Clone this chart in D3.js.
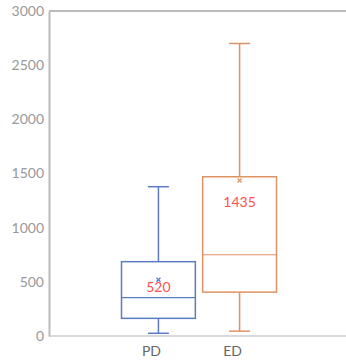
<!DOCTYPE html>
<html><head><meta charset="utf-8">
<script src="https://cdn.jsdelivr.net/npm/d3@7"></script>
<style>body{margin:0;background:#fff}svg{display:block}</style>
</head><body>
<script>
const categories = ["PD", "ED"];
const mins = [25, 45];
const q1s = [163, 405];
const medians = [354, 750];
const q3s = [686, 1470];
const maxs = [1378, 2700];
const means = [520, 1435];
const colors = ["#5b7cc4", "#df9263"];
const yTicks = [0, 500, 1000, 1500, 2000, 2500, 3000];

const W = 346, H = 363;
const FONT = "Lato, 'Open Sans', sans-serif";
const svg = d3.select("body").append("svg").attr("width", W).attr("height", H);
const x = d3.scaleBand().domain(categories).range([121.5, 276.5]).paddingInner(0.09).paddingOuter(0);
const y = d3.scaleLinear().domain([0, 3000]).range([336, 11]);

// frame
svg.append("line").attr("x1", 49).attr("x2", W).attr("y1", 11).attr("y2", 11).attr("stroke", "#bbb").attr("stroke-width", 2);
svg.append("line").attr("x1", 49).attr("x2", W).attr("y1", 336).attr("y2", 336).attr("stroke", "#d9d9d9").attr("stroke-width", 2);

const ya = svg.append("g").attr("transform", "translate(49,0)")
  .call(d3.axisLeft(y).tickValues(yTicks).tickFormat(d3.format("d")).tickSize(0).tickPadding(5));
ya.select(".domain").attr("stroke", "#bbb").attr("stroke-width", 2);
ya.selectAll("text").attr("fill", "#999").style("font-family", FONT).style("font-size", "14px");

const xa = svg.append("g").attr("transform", "translate(0,336)")
  .call(d3.axisBottom(x).tickSize(0).tickPadding(10));
xa.select(".domain").remove();
xa.selectAll("text").attr("fill", "#666").attr("dx", "-7").style("font-family", FONT).style("font-size", "14px");

categories.forEach((c, i) => {
  const g = svg.append("g");
  const x0 = x(c), bw = x.bandwidth(), cx = x0 + bw / 2;
  const col = colors[i];
  const capW = 21;
  // whiskers
  g.append("line").attr("x1", cx).attr("x2", cx).attr("y1", y(maxs[i])).attr("y2", y(q3s[i])).attr("stroke", col).attr("stroke-width", 1.5);
  g.append("line").attr("x1", cx).attr("x2", cx).attr("y1", y(q1s[i])).attr("y2", y(mins[i])).attr("stroke", col).attr("stroke-width", 1.5);
  g.append("line").attr("x1", cx - capW / 2).attr("x2", cx + capW / 2).attr("y1", y(maxs[i])).attr("y2", y(maxs[i])).attr("stroke", col).attr("stroke-width", 1.5);
  g.append("line").attr("x1", cx - capW / 2).attr("x2", cx + capW / 2).attr("y1", y(mins[i])).attr("y2", y(mins[i])).attr("stroke", col).attr("stroke-width", 1.5);
  // box
  g.append("rect").attr("x", x0).attr("width", bw).attr("y", y(q3s[i])).attr("height", y(q1s[i]) - y(q3s[i]))
    .attr("fill", "#fff").attr("stroke", col).attr("stroke-width", 1.5);
  g.append("line").attr("x1", x0).attr("x2", x0 + bw).attr("y1", y(medians[i])).attr("y2", y(medians[i])).attr("stroke", col).attr("stroke-width", 1.2);
  // mean marker
  const my = y(means[i]);
  g.append("path").attr("d", `M${cx - 2},${my - 2}L${cx + 2},${my + 2}M${cx + 2},${my - 2}L${cx - 2},${my + 2}`)
    .attr("stroke", col).attr("stroke-width", 1.3);
  g.append("text").attr("x", cx).attr("y", y(q3s[i]) + 30).attr("text-anchor", "middle")
    .attr("fill", "#ff4f4f").style("font-family", FONT).style("font-size", "14px")
    .text(means[i]);
});
</script>
</body></html>
